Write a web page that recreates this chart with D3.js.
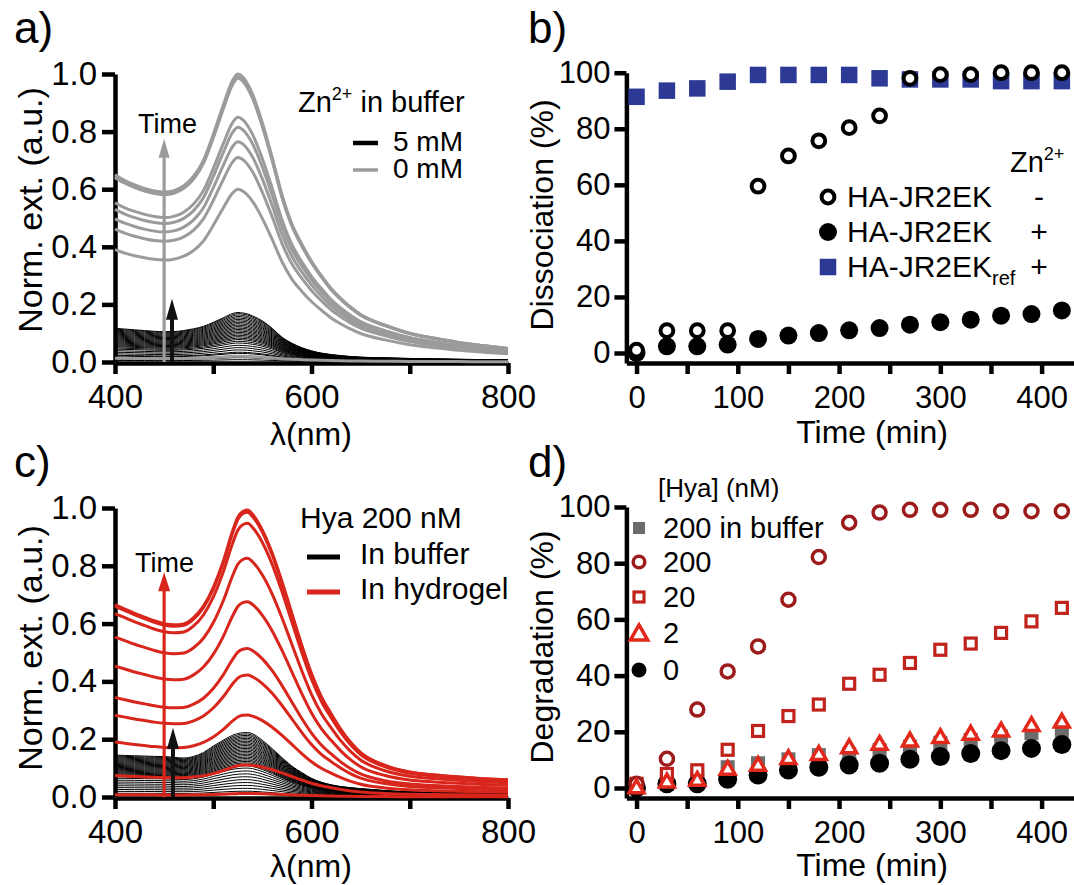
<!DOCTYPE html>
<html>
<head>
<meta charset="utf-8">
<script src="https://cdn.jsdelivr.net/npm/d3@7"></script>
<style>
body { margin: 0; background: #fff; }
svg { font-family: "Liberation Sans", Arial, sans-serif; }
</style>
</head>
<body>
<script>
const FONT = '"Liberation Sans", Arial, sans-serif';

// ---- spectra (a, c): wavelength grid, normalised shapes, peak heights of each trace
const wavelengths = [400, 410, 420, 430, 440, 450, 460, 470, 480, 490, 500, 510, 520, 525, 530, 535, 540, 550, 560, 570, 580, 590, 600, 610, 620, 630, 640, 650, 675, 700, 725, 750, 775, 800];
const grayProfile = [.65, .63, .615, .603, .594, .59, .595, .612, .645, .70, .79, .89, .98, 1.0, .99, .965, .93, .83, .71, .58, .48, .41, .35, .30, .255, .22, .19, .165, .128, .10, .083, .068, .057, .047];
const grayPeaks = [0.02, 0.60, 0.71, 0.765, 0.815, 0.85, 0.985, 0.99, 1.0];
const blackProfileA = [.68, .665, .65, .635, .62, .612, .615, .635, .67, .72, .80, .89, .98, 1.0, .99, .97, .93, .83, .68, .50, .38, .29, .225, .18, .15, .128, .11, .098, .083, .072, .062, .055, .048, .042];
const blackPeaksA = [0.008, 0.015, 0.03, 0.034, 0.042, 0.05, 0.058, 0.066, 0.072, 0.078, 0.083, 0.088, 0.093, 0.098, 0.103, 0.108, 0.113, 0.118, 0.123, 0.128, 0.133, 0.138, 0.143, 0.148, 0.153, 0.158, 0.163, 0.168, 0.172];
const redProfile = [.67, .655, .64, .627, .614, .604, .60, .603, .625, .665, .73, .82, .93, .975, .995, 1.0, .985, .93, .85, .75, .64, .53, .43, .35, .29, .235, .19, .155, .11, .087, .077, .07, .064, .06];
const redPeaks = [0.012, 0.111, 0.284, 0.422, 0.514, 0.676, 0.826, 0.947, 0.985, 0.993];
const blackProfileC = [.65, .645, .64, .635, .63, .628, .615, .605, .63, .69, .79, .88, .96, .985, .998, 1.0, .98, .88, .75, .61, .48, .38, .29, .23, .19, .162, .145, .13, .10, .08, .072, .066, .061, .057];
const blackPeaksC = [0.01, 0.02, 0.03, 0.04, 0.05, 0.06, 0.07, 0.08, 0.09, 0.1, 0.108, 0.113, 0.118, 0.123, 0.128, 0.133, 0.138, 0.143, 0.148, 0.153, 0.158, 0.163, 0.168, 0.173, 0.178, 0.183, 0.188, 0.193, 0.198, 0.203, 0.208, 0.213, 0.218, 0.223];

// ---- time series (b, d)
const times = [0, 30, 60, 90, 120, 150, 180, 210, 240, 270, 300, 330, 360, 390, 420];
const dissocNoZn = [1, 8, 8, 8, 59.5, 70.3, 75.7, 80.4, 84.6, 98, 99.3, 99.3, 100, 100, 100];
const dissocZn = [0, 2.4, 2.4, 3, 5, 6.2, 7.1, 8.1, 8.9, 10.1, 11, 11.9, 13.3, 13.9, 15.2];
const dissocRef = [91.4, 93.6, 94.4, 96.8, 99.2, 99.2, 99.2, 99.2, 98, 97.6, 97.6, 97.6, 97, 97, 97];
const degBuffer200 = [1, 3.4, 3.4, 7.4, 8.8, 10.2, 11.7, 12.1, 13.5, 14.7, 16.1, 17.1, 18.3, 19.5, 20.6];
const deg200 = [1.5, 10.4, 27.9, 41.5, 50.4, 67, 82.2, 94.4, 98, 99, 99, 99, 98.5, 98.5, 98.5];
const deg20 = [1.5, 5, 6.3, 13.6, 20.3, 25.6, 29.7, 37.1, 40.3, 44.5, 49.2, 51.4, 55.2, 59.3, 64.1];
const deg2 = [-0.2, 1.9, 2.5, 6.4, 7.8, 10.2, 11.7, 14.1, 15.3, 16.5, 17.7, 18.9, 20, 22, 23.2];
const deg0 = [0, 1.5, 1.5, 3.1, 4.6, 6.4, 7.4, 8.2, 8.8, 10.2, 11.2, 12.3, 13.3, 14.1, 15.5];

const specTicks = [0, 0.2, 0.4, 0.6, 0.8, 1.0];
const pctTicks = [0, 20, 40, 60, 80, 100];
const timeTicks = [0, 50, 100, 150, 200, 250, 300, 350, 400];

const GRAY = '#9b9b9b', RED = '#d8261d', BLUE = '#2c3a95';
const DRED = '#9c1c1c', MRED = '#c0221c', BRED = '#e2281b', DGRAY = '#6c6c6c';

const svg = d3.select('body').append('svg')
    .attr('width', 1074)
    .attr('height', 885);

function styleAxis(g, size) {
    g.attr('font-family', FONT).attr('font-size', size);
    g.selectAll('path, line').attr('stroke', '#000').attr('stroke-width', 4.5);
    g.selectAll('text').attr('fill', '#000');
}

function spectrumPanel(top, bottom, xAxisY) {
    const x = d3.scaleLinear().domain([400, 800]).range([115, 508]);
    const y = d3.scaleLinear().domain([0, 1]).range([bottom, top]);
    const g = svg.append('g');
    g.append('g')
        .attr('transform', 'translate(' + x(400) + ',0)')
        .call(d3.axisLeft(y).tickValues(specTicks).tickFormat(d3.format('.1f')).tickSize(13).tickSizeOuter(0).tickPadding(5))
        .call(a => styleAxis(a, 33));
    g.append('g')
        .attr('transform', 'translate(0,' + xAxisY + ')')
        .call(d3.axisBottom(x).tickValues([400, 500, 600, 700, 800]).tickFormat(d => d % 200 === 0 ? d : '').tickSize(11).tickSizeOuter(0).tickPadding(11))
        .call(a => styleAxis(a, 33));
    return { x, y, g };
}

function drawTraces(p, profile, peaks, color, width) {
    const line = d3.line()
        .x((d, i) => p.x(wavelengths[i]))
        .y(d => p.y(d))
        .curve(d3.curveMonotoneX);
    p.g.append('g').selectAll('path').data(peaks).enter()
        .append('path')
        .attr('d', pk => line(profile.map(v => v * pk)))
        .attr('fill', 'none')
        .attr('stroke', color)
        .attr('stroke-width', width);
}

function arrow(p, nm, tip, color, shaft, headW, headL) {
    const x0 = p.x(nm), yb = p.y(0), yt = p.y(tip);
    p.g.append('line')
        .attr('x1', x0).attr('x2', x0)
        .attr('y1', yb).attr('y2', yt + headL - 2)
        .attr('stroke', color).attr('stroke-width', shaft);
    p.g.append('path')
        .attr('d', 'M' + x0 + ',' + yt + 'L' + (x0 - headW / 2) + ',' + (yt + headL) + 'L' + (x0 + headW / 2) + ',' + (yt + headL) + 'Z')
        .attr('fill', color);
}

function text(x, y, str, size, anchor) {
    return svg.append('text')
        .attr('x', x).attr('y', y)
        .attr('font-size', size)
        .attr('text-anchor', anchor || 'start')
        .text(str);
}

function vtitle(x, y, str, size) {
    svg.append('text')
        .attr('transform', 'translate(' + x + ',' + y + ') rotate(-90)')
        .attr('font-size', size)
        .attr('text-anchor', 'middle')
        .text(str);
}

// ================= a)
const pa = spectrumPanel(74, 362, 363);
drawTraces(pa, blackProfileA, blackPeaksA, '#000', 1);
drawTraces(pa, grayProfile, grayPeaks, GRAY, 3);
arrow(pa, 450, 0.775, GRAY, 3.2, 11, 19);
arrow(pa, 458, 0.22, '#111', 4, 12, 21);
text(138, 133, 'Time', 27);

const za = text(298, 112, 'Zn', 29);
za.append('tspan').attr('font-size', 18).attr('dy', -12).text('2+');
za.append('tspan').attr('dy', 12).text(' in buffer');
svg.append('line').attr('x1', 353).attr('x2', 378).attr('y1', 143).attr('y2', 143).attr('stroke', '#000').attr('stroke-width', 4.5);
svg.append('line').attr('x1', 353).attr('x2', 378).attr('y1', 170).attr('y2', 170).attr('stroke', GRAY).attr('stroke-width', 3.5);
text(393, 151, '5 mM', 28);
text(393, 178, '0 mM', 28);

text(311, 445, 'λ(nm)', 32, 'middle');
vtitle(42, 210, 'Norm. ext. (a.u.)', 34);
text(14, 43, 'a)', 44);

// ================= c)
const pc = spectrumPanel(508, 797, 798);
drawTraces(pc, blackProfileC, blackPeaksC, '#000', 1);
drawTraces(pc, redProfile, redPeaks, RED, 3);
arrow(pc, 450, 0.778, RED, 3.2, 12, 19);
arrow(pc, 459, 0.24, '#111', 4, 12, 21);
text(135, 572, 'Time', 27);

text(300, 528, 'Hya 200 nM', 30);
svg.append('line').attr('x1', 307).attr('x2', 340).attr('y1', 557).attr('y2', 557).attr('stroke', '#000').attr('stroke-width', 5);
svg.append('line').attr('x1', 307).attr('x2', 340).attr('y1', 592).attr('y2', 592).attr('stroke', RED).attr('stroke-width', 5);
text(360, 564, 'In buffer', 30);
text(360, 599, 'In hydrogel', 30);

text(311, 877, 'λ(nm)', 32, 'middle');
vtitle(42, 648, 'Norm. ext. (a.u.)', 34);
text(14, 477, 'c)', 44);

// ================= b) and d) shared layout
function timePanel(top, zeroY, axisY) {
    const x = d3.scaleLinear().domain([-10, 432]).range([626.4, 1074]);
    const k = (zeroY - top) / 100;
    const y = d3.scaleLinear().domain([-(axisY - zeroY) / k, 100]).range([axisY, top]);
    const g = svg.append('g');
    g.append('g')
        .attr('transform', 'translate(' + x(-10) + ',0)')
        .call(d3.axisLeft(y).tickValues(pctTicks).tickSize(12).tickSizeOuter(0).tickPadding(4))
        .call(a => styleAxis(a, 31));
    g.append('g')
        .attr('transform', 'translate(0,' + axisY + ')')
        .call(d3.axisBottom(x).tickValues(timeTicks).tickFormat(d => d % 100 === 0 ? d : '').tickSize(11).tickSizeOuter(0).tickPadding(12))
        .call(a => styleAxis(a, 31));
    return { x, y, g };
}

function circles(p, vals, r, fill, stroke, sw) {
    p.g.append('g').selectAll('circle').data(vals).enter()
        .append('circle')
        .attr('cx', (d, i) => p.x(times[i]))
        .attr('cy', d => p.y(d))
        .attr('r', r)
        .attr('fill', fill)
        .attr('stroke', stroke)
        .attr('stroke-width', sw);
}

function squares(p, vals, s, fill, stroke, sw) {
    p.g.append('g').selectAll('rect').data(vals).enter()
        .append('rect')
        .attr('x', (d, i) => p.x(times[i]) - s / 2)
        .attr('y', d => p.y(d) - s / 2)
        .attr('width', s).attr('height', s)
        .attr('fill', fill)
        .attr('stroke', stroke)
        .attr('stroke-width', sw);
}

const tri = d3.symbol(d3.symbolTriangle, 95);

function triangles(p, vals) {
    p.g.append('g').selectAll('path').data(vals).enter()
        .append('path')
        .attr('d', tri)
        .attr('transform', (d, i) => 'translate(' + p.x(times[i]) + ',' + p.y(d) + ')')
        .attr('fill', '#fff')
        .attr('stroke', BRED)
        .attr('stroke-width', 3.5);
}

// ================= b)
const pb = timePanel(72.7, 353, 363);
squares(pb, dissocRef, 16.5, BLUE, 'none', 0);
circles(pb, dissocZn, 9, '#000', 'none', 0);
circles(pb, dissocNoZn, 6.4, '#fff', '#000', 4);

const zb = text(1010, 172, 'Zn', 29);
zb.append('tspan').attr('font-size', 18).attr('dy', -12).text('2+');
const legB = [
    { y: 197, label: 'HA-JR2EK', sign: '-' },
    { y: 232, label: 'HA-JR2EK', sign: '+' },
    { y: 267, label: 'HA-JR2EK', sign: '+', sub: 'ref' }
];
svg.append('circle').attr('cx', 828).attr('cy', legB[0].y).attr('r', 6.4).attr('fill', '#fff').attr('stroke', '#000').attr('stroke-width', 4);
svg.append('circle').attr('cx', 828).attr('cy', legB[1].y).attr('r', 9).attr('fill', '#000');
svg.append('rect').attr('x', 828 - 8.25).attr('y', legB[2].y - 8.25).attr('width', 16.5).attr('height', 16.5).attr('fill', BLUE);
legB.forEach(d => {
    const t = text(847, d.y + 10, d.label, 30);
    if (d.sub) t.append('tspan').attr('font-size', 20).attr('dy', 8).text(d.sub);
    text(1039, d.y + 10, d.sign, 30, 'middle');
});

text(872, 443, 'Time (min)', 32, 'middle');
vtitle(553, 215, 'Dissociation (%)', 32);
text(528, 43, 'b)', 44);

// ================= d)
const pd = timePanel(507, 788, 798);
squares(pd, degBuffer200, 14, DGRAY, 'none', 0);
circles(pd, deg0, 9.5, '#000', 'none', 0);
squares(pd, deg20, 11, '#fff', MRED, 3.2);
circles(pd, deg200, 6.5, '#fff', DRED, 3.5);
triangles(pd, deg2);

text(658, 497, '[Hya] (nM)', 26);
const legD = [
    { y: 528, label: '200 in buffer' },
    { y: 562, label: '200' },
    { y: 597, label: '20' },
    { y: 633, label: '2' },
    { y: 670, label: '0' }
];
svg.append('rect').attr('x', 639 - 6).attr('y', legD[0].y - 6).attr('width', 12).attr('height', 12).attr('fill', DGRAY);
svg.append('circle').attr('cx', 639).attr('cy', legD[1].y).attr('r', 5.8).attr('fill', '#fff').attr('stroke', DRED).attr('stroke-width', 3.5);
svg.append('rect').attr('x', 639 - 5).attr('y', legD[2].y - 5).attr('width', 10).attr('height', 10).attr('fill', '#fff').attr('stroke', MRED).attr('stroke-width', 3.2);
svg.append('path').attr('d', d3.symbol(d3.symbolTriangle, 130)).attr('transform', 'translate(639,' + (legD[3].y + 2) + ')').attr('fill', '#fff').attr('stroke', BRED).attr('stroke-width', 3.5);
svg.append('circle').attr('cx', 639).attr('cy', legD[4].y).attr('r', 7.5).attr('fill', '#000');
legD.forEach(d => text(663, d.y + 10, d.label, 29));

text(872, 876, 'Time (min)', 32, 'middle');
vtitle(553, 647, 'Degradation (%)', 32);
text(528, 477, 'd)', 44);
</script>
</body>
</html>
